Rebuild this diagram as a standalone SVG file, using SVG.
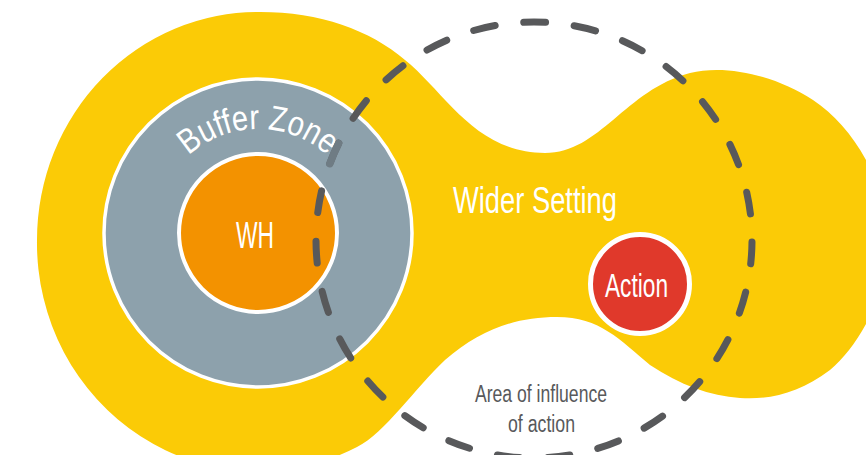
<svg xmlns="http://www.w3.org/2000/svg" width="866" height="455" viewBox="0 0 866 455">
<style>
.lbl{font-family:'Liberation Sans Narrow','Liberation Sans',Arial,sans-serif;fill:#ffffff}
.dark{font-family:'Liberation Sans Narrow','Liberation Sans',Arial,sans-serif;fill:#58595b}
</style>
<defs>
<path id="bzArc" d="M 167.9 181 A 104 104 0 0 1 348.1 181"/>
</defs>
<rect width="866" height="455" fill="#ffffff"/>
<g id="wider-setting">
<path d="M 260 12 C 320 12 370 30 405 60 C 445 92 475 153 545 153 C 600 153 625 90 690 73 C 725 64 775 75 813 100 C 850 125 880 170 890 234 C 890 290 860 345 830 370 C 800 393 770 400 740 398 C 710 396 680 385 650 365 C 620 340 600 317 557 317 C 515 317 480 330 445 360 C 415 388 385 433 357 447 A 221 228 0 0 1 37 240 A 221 228 0 0 1 260 12 Z" fill="#fbcb06"/>
<text class="lbl" x="453" y="213" font-size="37" textLength="164" lengthAdjust="spacingAndGlyphs">Wider Setting</text>
</g>
<g id="buffer-zone">
<circle cx="258" cy="233" r="154" fill="#8da1ac" stroke="#ffffff" stroke-width="3.5"/>
<text class="lbl" font-size="35" fill="#f4f6f7"><textPath href="#bzArc" startOffset="50%" text-anchor="middle" textLength="152" lengthAdjust="spacingAndGlyphs">Buffer Zone</textPath></text>
</g>
<g id="wh">
<circle cx="258" cy="233" r="79" fill="#f39200" stroke="#ffffff" stroke-width="4"/>
<text class="lbl" x="236" y="248" font-size="37" textLength="38" lengthAdjust="spacingAndGlyphs">WH</text>
</g>
<g id="action">
<circle cx="640" cy="284" r="49.5" fill="#e0392b" stroke="#ffffff" stroke-width="5"/>
<text class="lbl" x="605" y="297" font-size="34" textLength="63" lengthAdjust="spacingAndGlyphs">Action</text>
</g>
<g id="connectors">
<circle cx="534" cy="240" r="218" fill="none" stroke="#58595b" stroke-width="7" stroke-linecap="round" stroke-dasharray="22 28.73" stroke-dashoffset="-1.94"/>
<path d="M 329.8 163.7 A 218 218 0 0 1 338.6 143.4" fill="none" stroke="#6f7c84" stroke-width="7.5" stroke-linecap="round"/>
</g>
<g id="area-of-influence">
<text class="dark" x="475" y="401.7" font-size="23" textLength="132" lengthAdjust="spacingAndGlyphs">Area of influence</text>
<text class="dark" x="508" y="431.5" font-size="23" textLength="67" lengthAdjust="spacingAndGlyphs">of action</text>
</g>
</svg>
